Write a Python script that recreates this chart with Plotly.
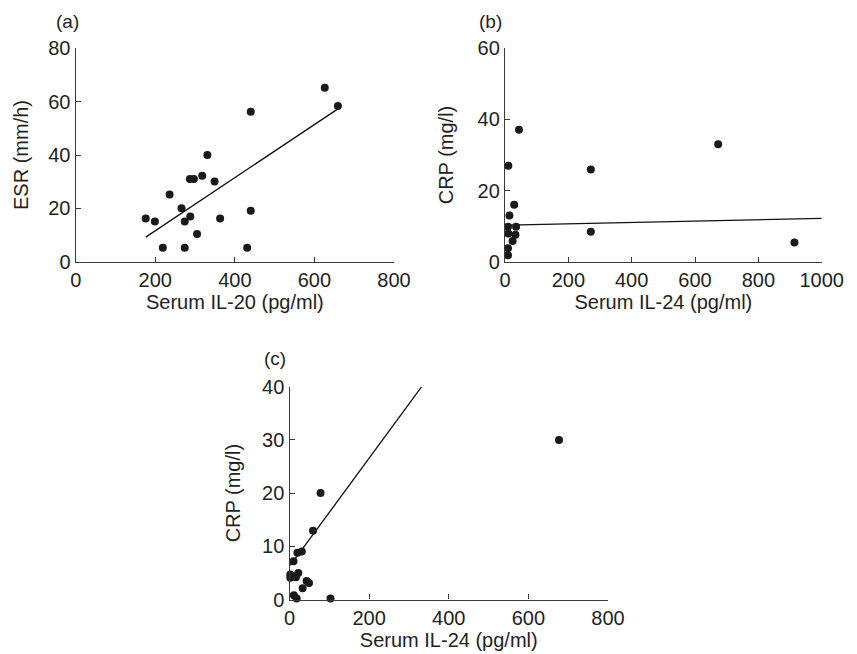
import plotly.graph_objects as go

# ---- Panel (a): Serum IL-20 vs ESR ----
a_il20 = [176, 199, 219, 236, 266, 274, 274, 288, 287, 297, 305, 318, 331, 349, 363, 431, 440, 440, 626, 659]
a_esr = [16.2, 15.1, 5.2, 25.2, 20.0, 15.1, 5.2, 16.9, 31.0, 31.0, 10.4, 32.2, 40.0, 30.1, 16.2, 5.2, 19.1, 56.2, 65.2, 58.4]
a_fit_x = [176, 660]
a_fit_y = [9.2, 57.4]

# ---- Panel (b): Serum IL-24 vs CRP ----
b_il24 = [9.5, 9.5, 10.5, 9.5, 14, 10.5, 24, 33, 35, 29, 44, 271, 271, 673, 914]
b_crp = [1.8, 3.8, 7.9, 9.8, 13.0, 27.0, 5.8, 7.6, 9.8, 16.0, 37.1, 25.9, 8.4, 33.0, 5.4]
b_fit_x = [5, 1000]
b_fit_y = [10.3, 12.2]

# ---- Panel (c): Serum IL-24 vs CRP ----
c_il24 = [78, 59, 20, 31, 10, 2, 2, 22, 16, 43, 49, 33, 11, 18, 103, 677]
c_crp = [20.0, 12.9, 8.8, 9.0, 7.2, 4.7, 4.1, 5.0, 4.2, 3.5, 3.1, 2.1, 0.8, 0.2, 0.2, 30.0]
c_fit_x = [2, 332]
c_fit_y = [6.4, 40.0]

x_ticks_a = [0, 200, 400, 600, 800]
y_ticks_a = [0, 20, 40, 60, 80]
x_ticks_b = [0, 200, 400, 600, 800, 1000]
y_ticks_b = [0, 20, 40, 60]
x_ticks_c = [0, 200, 400, 600, 800]
y_ticks_c = [0, 10, 20, 30, 40]

FONT = "Liberation Sans, Arial, Helvetica, sans-serif"
TXT = "#231f20"
AX = "#3a3a3a"
MK = "#1a1a1a"

fig = go.Figure()

panels = [
    ("x", "y", a_il20, a_esr, a_fit_x, a_fit_y),
    ("x2", "y2", b_il24, b_crp, b_fit_x, b_fit_y),
    ("x3", "y3", c_il24, c_crp, c_fit_x, c_fit_y),
]
for xa, ya, xs, ys, fx, fy in panels:
    fig.add_trace(go.Scatter(x=fx, y=fy, mode="lines", xaxis=xa, yaxis=ya,
                             line=dict(color="#111111", width=1.3),
                             showlegend=False, hoverinfo="skip"))
    fig.add_trace(go.Scatter(x=xs, y=ys, mode="markers", xaxis=xa, yaxis=ya,
                             marker=dict(color=MK, size=8),
                             cliponaxis=False, showlegend=False))

# page body has an 8px default margin: figure is drawn 8px in from the corner
OFF = 8
W, H = 857 - OFF, 654 - OFF

def dom_x(l, r):
    return [(l - OFF) / W, (r - OFF) / W]

def dom_y(t, b):
    return [1 - (b - OFF) / H, 1 - (t - OFF) / H]

def xaxis(domain, rng, ticks, title, anchor):
    return dict(domain=domain, range=rng, tickvals=ticks, anchor=anchor,
                automargin=False,
                showline=True, linecolor=AX, linewidth=1.4, showgrid=False,
                zeroline=False, ticks="inside", ticklen=5, tickcolor=AX,
                tickwidth=1.2, tickfont=dict(family=FONT, size=20, color=TXT),
                title=dict(text=title, font=dict(family=FONT, size=20, color=TXT),
                           standoff=4))

def yaxis(domain, rng, ticks, title, anchor, standoff):
    return dict(domain=domain, range=rng, tickvals=ticks, anchor=anchor,
                automargin=False,
                showline=True, linecolor=AX, linewidth=1.4, showgrid=False,
                zeroline=False, ticks="inside", ticklen=5, tickcolor=AX,
                tickwidth=1.2, tickfont=dict(family=FONT, size=20, color=TXT),
                title=dict(text=title, font=dict(family=FONT, size=20, color=TXT),
                           standoff=standoff))

fig.update_layout(
    template="none",
    width=W, height=H, autosize=False,
    margin=dict(l=0, r=0, t=0, b=0, pad=0),
    paper_bgcolor="white", plot_bgcolor="white",
    xaxis=xaxis(dom_x(75.7, 394), [0, 800], x_ticks_a, "Serum IL-20 (pg/ml)", "y"),
    yaxis=yaxis(dom_y(48.3, 261.7), [0, 80], y_ticks_a, "ESR (mm/h)", "x", 14),
    xaxis2=xaxis(dom_x(505, 821.7), [0, 1000], x_ticks_b, "Serum IL-24 (pg/ml)", "y2"),
    yaxis2=yaxis(dom_y(48.3, 261.7), [0, 60], y_ticks_b, "CRP (mg/l)", "x2", 18),
    xaxis3=xaxis(dom_x(289.5, 608), [0, 800], x_ticks_c, "Serum IL-24 (pg/ml)", "y3"),
    yaxis3=yaxis(dom_y(386.7, 599.5), [0, 40], y_ticks_c, "CRP (mg/l)", "x3", 16),
    font=dict(family=FONT, color=TXT),
)

labels = [("(a)", 67.5, 21.5), ("(b)", 490, 21), ("(c)", 275, 358.5)]
for txt, px, py in labels:
    fig.add_annotation(text=txt, x=(px - OFF) / W, y=1 - (py - OFF) / H,
                       xref="paper", yref="paper",
                       showarrow=False, xanchor="center", yanchor="middle",
                       font=dict(family=FONT, size=19, color=TXT))

fig.write_html("out.html")
